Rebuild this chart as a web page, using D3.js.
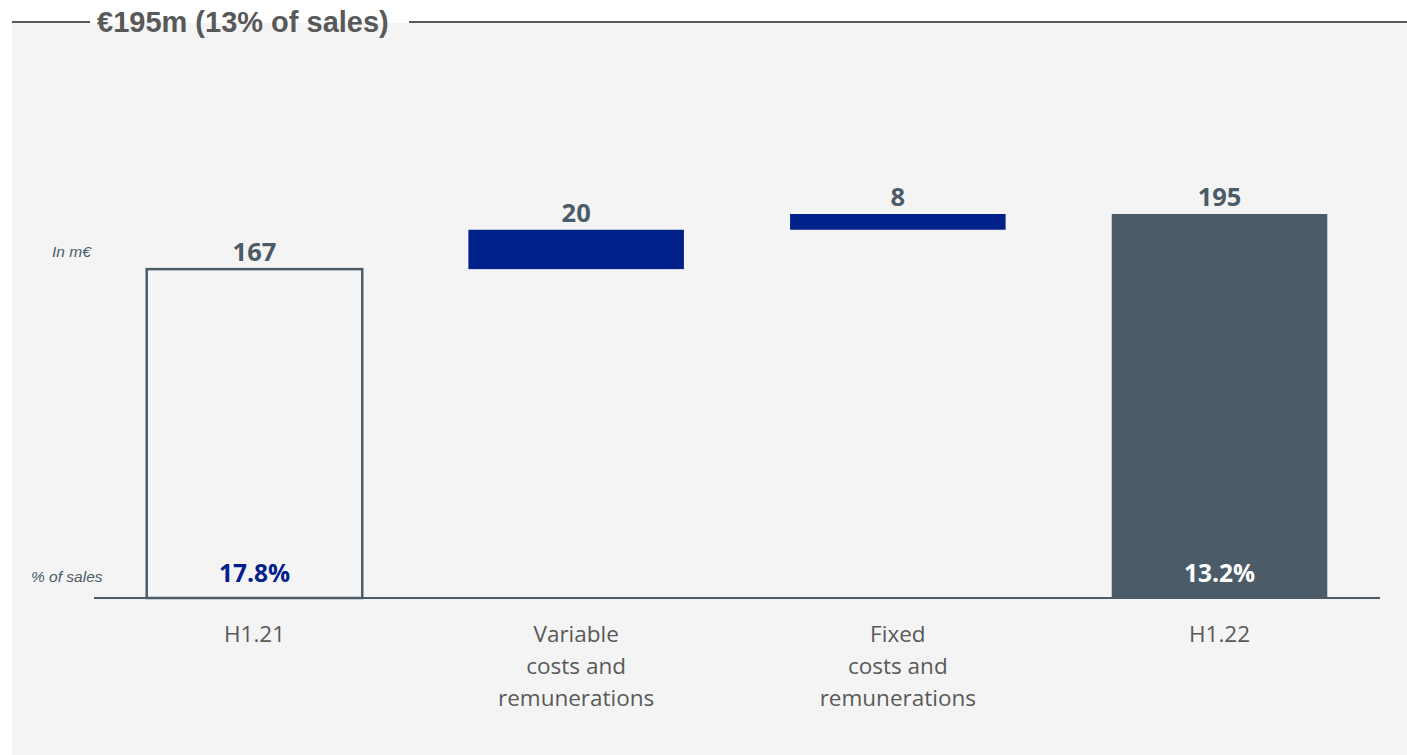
<!DOCTYPE html>
<html>
<head>
<meta charset="utf-8">
<script src="https://cdn.jsdelivr.net/npm/d3@7"></script>
<style>
  body { margin: 0; background: #fff; }
  svg { display: block; }
</style>
</head>
<body>
<div id="chart"></div>
<script>
// chart data
var categories = ["H1.21", "Variable\ncosts and\nremunerations", "Fixed\ncosts and\nremunerations", "H1.22"];
var values = [167, 20, 8, 195];
var kinds = ["start", "delta", "delta", "total"];
var pctLabels = ["17.8%", null, null, "13.2%"];
var title = "€195m (13% of sales)";

var svgWidth = 1407;
var svgHeight = 755;

var svg = d3.select("#chart")
  .append("svg")
  .attr("width", svgWidth)
  .attr("height", svgHeight);

// panel background
svg.append("rect")
  .attr("x", 12).attr("y", 23)
  .attr("width", svgWidth - 12).attr("height", svgHeight - 23)
  .attr("fill", "#f4f4f4");

// title with rule either side
svg.append("line")
  .attr("x1", 12).attr("x2", 90).attr("y1", 22).attr("y2", 22)
  .attr("stroke", "#595959").attr("stroke-width", 2);
svg.append("line")
  .attr("x1", 409).attr("x2", svgWidth).attr("y1", 22).attr("y2", 22)
  .attr("stroke", "#595959").attr("stroke-width", 2);
svg.append("text")
  .attr("x", 97).attr("y", 32)
  .attr("font-family", "Liberation Sans, Arial, sans-serif")
  .attr("font-weight", "bold")
  .attr("font-size", 29)
  .attr("fill", "#595959")
  .text(title);

// scales
var x = d3.scaleBand()
  .domain(categories)
  .range([93, 1381])
  .paddingInner(0.33)
  .paddingOuter(0.167);

var y = d3.scaleLinear()
  .domain([0, 195])
  .range([598, 214]);

// running totals for the waterfall
var rows = [];
var running = 0;
values.forEach(function(v, i) {
  var lo, hi;
  if (kinds[i] === "delta") {
    lo = running; hi = running + v; running = hi;
  } else {
    lo = 0; hi = v; running = v;
  }
  rows.push({cat: categories[i], value: v, kind: kinds[i], lo: lo, hi: hi, pct: pctLabels[i]});
});

var labelFont = "Open Sans, Lato, sans-serif";
var darkColor = "#4b5b67";
var blueColor = "#00218a";

var bars = svg.append("g");
bars.selectAll("rect")
  .data(rows)
  .enter()
  .append("rect")
  .attr("x", d => x(d.cat))
  .attr("y", d => y(d.hi))
  .attr("width", x.bandwidth())
  .attr("height", d => y(d.lo) - y(d.hi))
  .attr("fill", d => d.kind === "start" ? "none" : (d.kind === "delta" ? blueColor : darkColor))
  .attr("stroke", d => d.kind === "start" ? darkColor : "none")
  .attr("stroke-width", 2.5);

// value labels
bars.selectAll(".val")
  .data(rows)
  .enter()
  .append("text")
  .attr("class", "val")
  .attr("x", d => x(d.cat) + x.bandwidth() / 2)
  .attr("y", d => y(d.hi) - 8)
  .attr("text-anchor", "middle")
  .attr("font-family", labelFont)
  .attr("font-weight", "bold")
  .attr("font-size", 25.5)
  .attr("fill", darkColor)
  .text(d => d.value);

// % of sales labels
bars.selectAll(".pct")
  .data(rows.filter(d => d.pct))
  .enter()
  .append("text")
  .attr("class", "pct")
  .attr("x", d => x(d.cat) + x.bandwidth() / 2)
  .attr("y", 582)
  .attr("text-anchor", "middle")
  .attr("font-family", labelFont)
  .attr("font-weight", "bold")
  .attr("font-size", 24.5)
  .attr("fill", d => d.kind === "start" ? blueColor : "#ffffff")
  .text(d => d.pct);

// baseline axis
var xAxis = svg.append("g")
  .attr("transform", "translate(0," + y(0) + ")")
  .call(d3.axisBottom(x).tickSize(0).tickFormat(""));
xAxis.select(".domain")
  .attr("d", "M94,0H1380")
  .attr("stroke", darkColor)
  .attr("stroke-width", 2);

// category labels (multi-line)
var catText = svg.append("g").selectAll("text")
  .data(categories)
  .enter()
  .append("text")
  .attr("x", d => x(d) + x.bandwidth() / 2)
  .attr("y", 642)
  .attr("text-anchor", "middle")
  .attr("font-family", labelFont)
  .attr("font-size", 22.5)
  .attr("fill", "#595959");
catText.selectAll("tspan")
  .data(d => d.split("\n"))
  .enter()
  .append("tspan")
  .attr("x", function() { return d3.select(this.parentNode).attr("x"); })
  .attr("dy", (d, i) => i === 0 ? 0 : 32)
  .text(d => d);

// side notes
svg.append("text")
  .attr("x", 52).attr("y", 257)
  .attr("font-family", "Liberation Sans, Arial, sans-serif")
  .attr("font-style", "italic")
  .attr("font-size", 15.5)
  .attr("fill", darkColor)
  .text("In m€");
svg.append("text")
  .attr("x", 31).attr("y", 582)
  .attr("font-family", "Liberation Sans, Arial, sans-serif")
  .attr("font-style", "italic")
  .attr("font-size", 15.5)
  .attr("fill", darkColor)
  .text("% of sales");
</script>
</body>
</html>
